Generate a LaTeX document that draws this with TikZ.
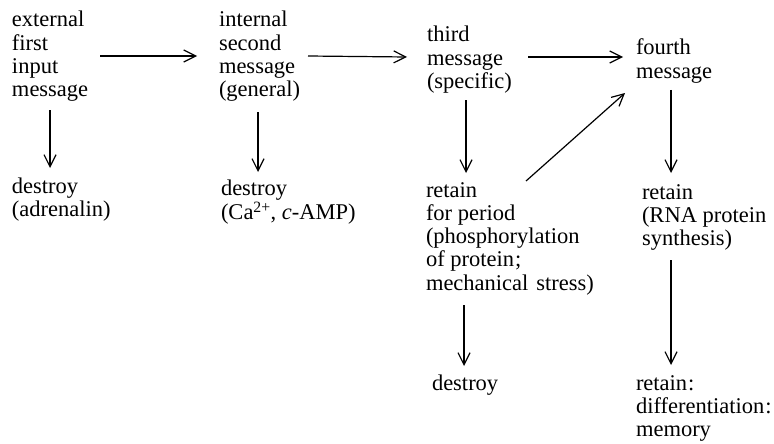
\documentclass[tikz,border=0pt]{standalone}
\usepackage{fontspec}
\setmainfont{Liberation Serif}
\usetikzlibrary{arrows.meta}
\newcommand\stack[1]{\begin{tabular}[t]{@{}l@{}}#1\end{tabular}}
\begin{document}
\begin{tikzpicture}[x=1pt,y=1pt,
  txt/.style={anchor=base west,inner sep=0pt,outer sep=0pt,font=\fontsize{22.5}{23.3}\selectfont},
  arr/.style={line width=1.2pt,-{Straight Barb[length=12pt,width=12pt,line width=1.2pt]}}]
\useasboundingbox (0,0) rectangle (774,-444);
\node[txt] (n1)  at (12,-27)  {\stack{external\\first\\input\\message}};
\node[txt] (n1d) at (12,-193) {\stack{destroy\\(adrenalin)}};
\node[txt] (n2)  at (219,-27) {\stack{internal\\second\\message\\(general)}};
\node[txt] (n2d) at (221,-195) {\stack{destroy\\(Ca\textsuperscript{2+}, \textit{c}-AMP)}};
\node[txt] (n3)  at (427,-42) {\stack{third\\message\\(specific)}};
\node[txt] (n3r) at (426,-197) {\stack{retain\\for period\\(phosphorylation\\of protein\kern1pt;\\mechanical\hspace{8pt}stress)}};
\node[txt] (n3d) at (432,-390) {\stack{destroy}};
\node[txt] (n4)  at (636,-55) {\stack{fourth\\message}};
\node[txt] (n4r) at (642,-199) {\stack{retain\\(RNA protein\\synthesis)}};
\node[txt] (n4m) at (636,-390) {\stack{retain\kern1pt:\\differentiation\kern1pt:\\memory}};
\draw[arr] ([shift={(88,-29)}]n1.base west) -- ([shift={(-22,-29)}]n2.base west);
\draw[arr] ([shift={(89,-29)}]n2.base west) -- ([shift={(-20,-15)}]n3.base west);
\draw[arr] ([shift={(101,-15)}]n3.base west) -- ([shift={(-13,-2)}]n4.base west);
\draw[arr] ([shift={(38,-83)}]n1.base west) -- ([shift={(38,25)}]n1d.base west);
\draw[arr] ([shift={(39,-85)}]n2.base west) -- ([shift={(37,23)}]n2d.base west);
\draw[arr] ([shift={(39,-58)}]n3.base west) -- ([shift={(40,24)}]n3r.base west);
\draw[arr] ([shift={(100,16)}]n3r.base west) -- ([shift={(-11,-38)}]n4.base west);
\draw[arr] ([shift={(35,-35)}]n4.base west) -- ([shift={(29,26)}]n4r.base west);
\draw[arr] ([shift={(38,-108)}]n3r.base west) -- ([shift={(32,24)}]n3d.base west);
\draw[arr] ([shift={(29,-61)}]n4r.base west) -- ([shift={(35,25)}]n4m.base west);
\end{tikzpicture}
\end{document}
